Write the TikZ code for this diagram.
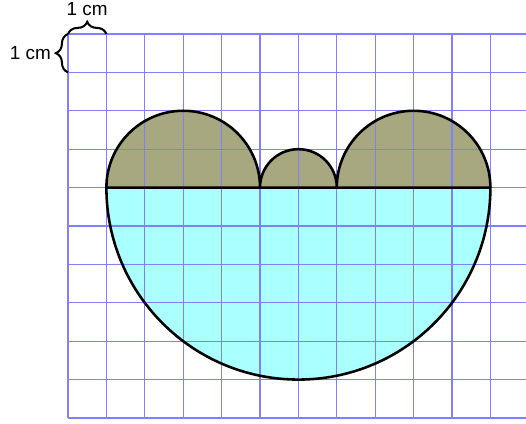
\documentclass[tikz,border=0pt]{standalone}
\usepackage{fontspec}
\setmainfont{Liberation Sans}
\usepackage{xcolor}
\usetikzlibrary{decorations.pathreplacing}
\definecolor{olivefill}{RGB}{168,168,128}
\definecolor{cyanfill}{RGB}{170,255,255}
\definecolor{gridblue}{RGB}{128,128,255}
\tikzset{
  gridline/.style={gridblue, line width=0.9pt},
  outline/.style={black, line width=1.9pt},
  bracemark/.style={decorate, decoration={brace, amplitude=9pt}, line width=1.5pt},
  unitlabel/.style={font=\fontsize{14}{16}\selectfont, inner sep=1pt}
}
\begin{document}
\begin{tikzpicture}
    \useasboundingbox (-1.771,-0.156) rectangle (11.927,10.885);
    % fills
    \fill[cyanfill] (1,6) arc (180:360:5) -- cycle;
    \fill[olivefill] (1,6) arc (180:0:2) arc (180:0:1) arc (180:0:2) -- cycle;
    % grid
    \foreach \i in {0,...,11}
        \draw[gridline] (\i,0) -- (\i,10);
    \foreach \j in {0,...,10}
        \draw[gridline] (0,\j) -- (11.927,\j);
    % outlines
    \draw[outline] (1,6) arc (180:360:5) -- cycle;
    \draw[outline] (1,6) arc (180:0:2) arc (180:0:1) arc (180:0:2);
    % unit braces
    \coordinate (tl) at (0,10);
    \coordinate (tr) at (1,10);
    \coordinate (lb) at (0,9);
    \draw[bracemark] (tl) -- (tr) node[midway, above=12pt, unitlabel] (topcm) {1 cm};
    \draw[bracemark] (lb) -- (tl) node[midway, left=11pt, unitlabel] (leftcm) {1 cm};
\end{tikzpicture}
\end{document}
